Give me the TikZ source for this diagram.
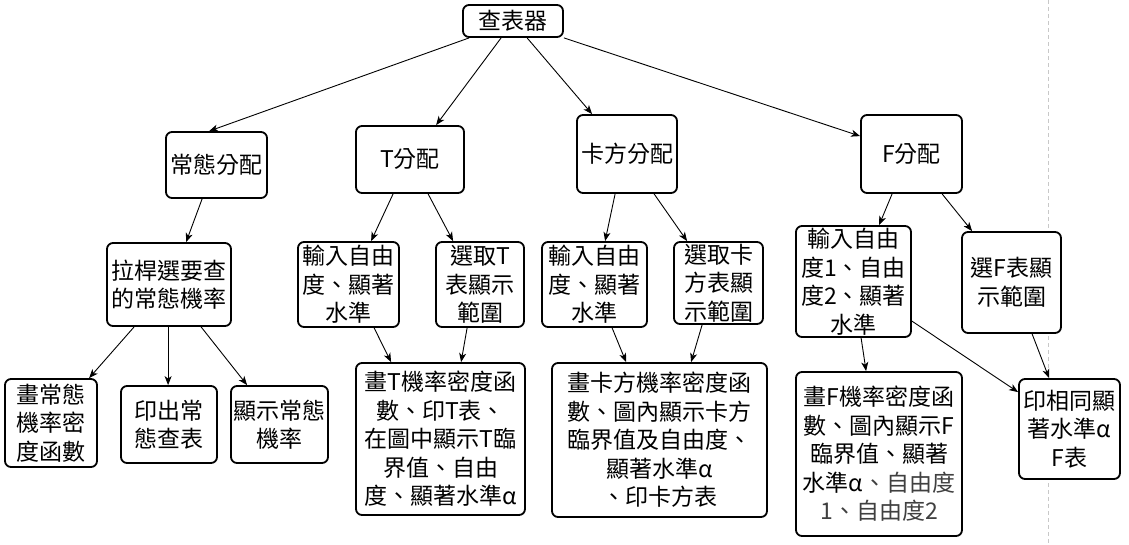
\documentclass[tikz,border=0pt]{standalone}
\usepackage{fontspec}
\setmainfont{Noto Sans CJK TC}
\usetikzlibrary{arrows.meta,calc}
\definecolor{textgray}{HTML}{404040}
\definecolor{dashgray}{HTML}{C8C8C8}
\newcommand\bx[6]{\node[box,minimum width={(#4-#2)*1pt},minimum height={(#5-#3)*1pt}] (#1) at ({(#2+#4)/2},{(#3+#5)/2}) {#6};}
\newcommand\arr[4]{\draw[arr] ($(#1.south west)+(#2,0)$) -- ($(#3.north west)+(#4,0)$);}
\begin{document}
\begin{tikzpicture}[x=1pt,y=-1pt,
  box/.style={draw,line width=1.8pt,rounded corners=6pt,fill=white,inner sep=0pt,align=center,font=\fontsize{23}{28.5}\selectfont},
  arr/.style={line width=0.9pt,-{Stealth[length=9pt,width=7pt,inset=2.5pt]}}]
\fill[white] (0,0) rectangle (1129,544);
\useasboundingbox (0,0) rectangle (1129,544);
\coordinate (dtop) at (1048,0);
\coordinate (dbot) at (1048,544);
\draw[dashgray,line width=0.9pt,dash pattern=on 4pt off 3pt] (dtop) -- (dbot);
\bx{root}{463}{5}{563}{37}{查表器}
\bx{norm}{166}{132}{267}{198}{常態分配}
\bx{tdist}{356}{126}{464}{193}{T分配}
\bx{chi}{577}{115}{677}{193}{卡方分配}
\bx{fdist}{861}{115}{962}{193}{F分配}
\bx{slider}{107}{243}{231}{326}{拉桿選要查\\的常態機率}
\bx{tin}{298}{242}{399}{327}{輸入自由\\度、顯著\\水準}
\bx{tsel}{436}{242}{524}{327}{選取T\\表顯示\\範圍}
\bx{chiin}{542}{242}{647}{327}{輸入自由\\度、顯著\\水準}
\bx{chisel}{674}{242}{763}{324}{選取卡\\方表顯\\示範圍}
\bx{fin}{796}{226}{911}{337}{輸入自由\\度1、自由\\度2、顯著\\水準}
\bx{fsel}{962}{232}{1061}{333}{選F表顯\\示範圍}
\bx{npdf}{5}{379}{97}{467}{畫常態\\機率密\\度函數}
\bx{nprint}{121}{386}{217}{463}{印出常\\態查表}
\bx{nshow}{231}{386}{328}{463}{顯示常態\\機率}
\bx{tpdf}{356}{363}{525}{515}{畫T機率密度函\\數、印T表、\\在圖中顯示T臨\\界值、自由\\度、顯著水準α}
\bx{chipdf}{552}{363}{767}{517}{畫卡方機率密度函\\數、圖內顯示卡方\\臨界值及自由度、\\顯著水準α\\、印卡方表}
\bx{fpdf}{796}{372}{962}{536}{畫F機率密度函\\數、圖內顯示F\\臨界值、顯著\\水準α{\color{textgray}、自由度}\\{\color{textgray}1、自由度2}}
\bx{fprint}{1019}{379}{1120}{479}{印相同顯\\著水準α\\F表}
\arr{root}{7}{norm}{44}
\arr{root}{39}{tdist}{81}
\arr{root}{65}{chi}{16}
\draw[arr] (root.south east) -- ($(fdist.north west)+(0,22)$);
\arr{norm}{37}{slider}{80}
\arr{slider}{28}{npdf}{85}
\arr{slider}{62}{nprint}{48}
\arr{slider}{95}{nshow}{17}
\arr{tdist}{38}{tin}{74}
\arr{tdist}{73}{tsel}{18}
\arr{tin}{77}{tpdf}{36}
\arr{tsel}{32}{tpdf}{106}
\arr{chi}{39}{chiin}{64}
\arr{chi}{78}{chisel}{14}
\arr{chiin}{71}{chipdf}{75}
\arr{chisel}{29}{chipdf}{140}
\arr{fdist}{32}{fin}{84}
\arr{fdist}{82}{fsel}{11}
\arr{fin}{66}{fpdf}{71}
\draw[arr] ($(fin.north east)+(0,96)$) -- ($(fprint.north west)+(0,14)$);
\arr{fsel}{71}{fprint}{31}
\end{tikzpicture}
\end{document}
